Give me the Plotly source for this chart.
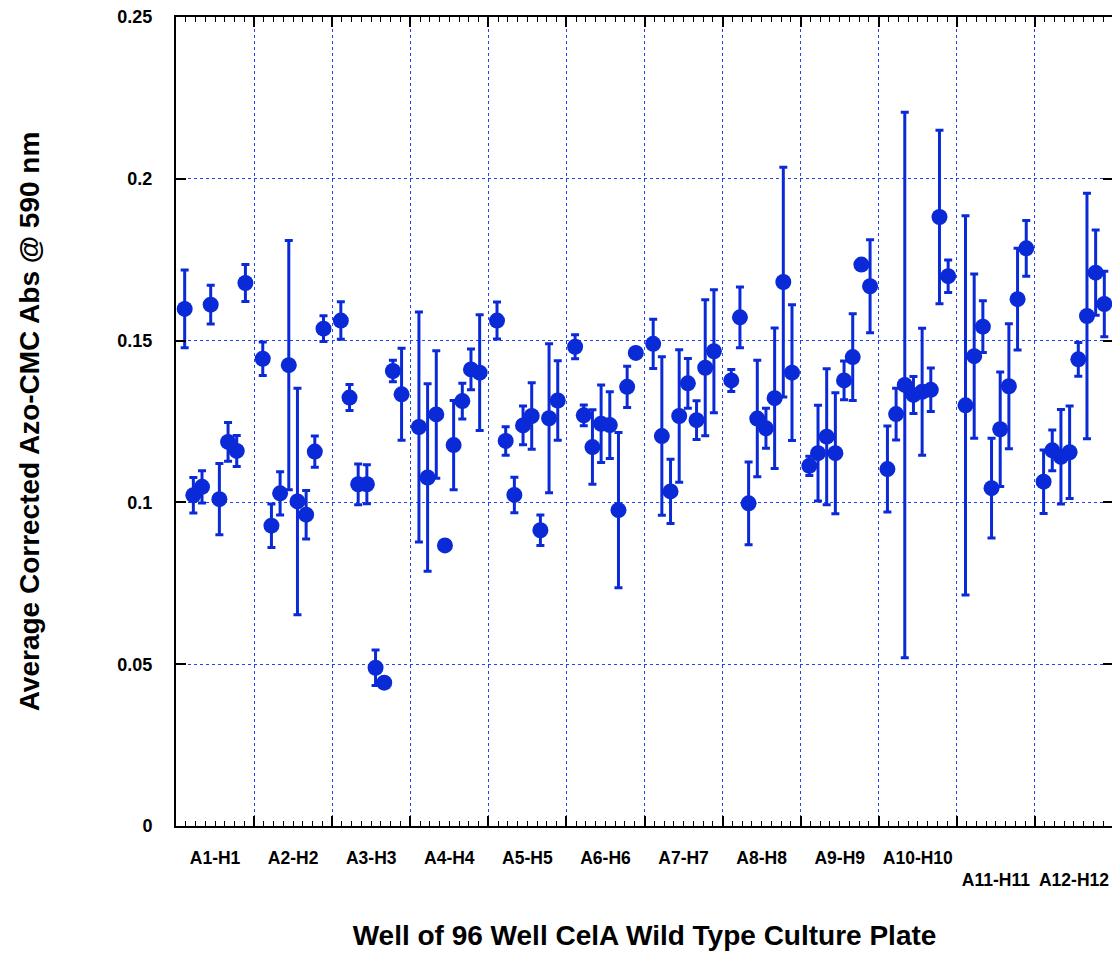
import plotly.graph_objects as go

groups = ["A1-H1", "A2-H2", "A3-H3", "A4-H4", "A5-H5", "A6-H6",
          "A7-H7", "A8-H8", "A9-H9", "A10-H10", "A11-H11", "A12-H12"]

g1 = [0.1598, 0.1022, 0.1048, 0.1611, 0.1010, 0.1187, 0.1159, 0.1678]
g2 = [0.1444, 0.0928, 0.1028, 0.1424, 0.1003, 0.0962, 0.1157, 0.1537]
g3 = [0.1562, 0.1324, 0.1056, 0.1056, 0.0489, 0.0443, 0.1406, 0.1334]
g4 = [0.1233, 0.1077, 0.1272, 0.0867, 0.1177, 0.1313, 0.1411, 0.1401]
g5 = [0.1562, 0.1190, 0.1023, 0.1238, 0.1267, 0.0914, 0.1260, 0.1315]
g6 = [0.1481, 0.1269, 0.1171, 0.1243, 0.1239, 0.0976, 0.1357, 0.1462]
g7 = [0.1490, 0.1205, 0.1034, 0.1267, 0.1368, 0.1254, 0.1416, 0.1467]
g8 = [0.1377, 0.1572, 0.0997, 0.1259, 0.1229, 0.1322, 0.1681, 0.1401]
g9 = [0.1113, 0.1152, 0.1203, 0.1152, 0.1377, 0.1449, 0.1735, 0.1668]
g10 = [0.1103, 0.1273, 0.1363, 0.1332, 0.1342, 0.1348, 0.1882, 0.1699]
g11 = [0.1300, 0.1452, 0.1543, 0.1044, 0.1226, 0.1359, 0.1628, 0.1785]
g12 = [0.1064, 0.1161, 0.1141, 0.1155, 0.1442, 0.1576, 0.1710, 0.1613]

e1 = [0.0120, 0.0055, 0.0050, 0.0060, 0.0110, 0.0060, 0.0048, 0.0057]
e2 = [0.0052, 0.0067, 0.0067, 0.0385, 0.0350, 0.0075, 0.0048, 0.0040]
e3 = [0.0058, 0.0040, 0.0063, 0.0060, 0.0055, 0.0015, 0.0033, 0.0142]
e4 = [0.0355, 0.0290, 0.0197, 0.0010, 0.0138, 0.0055, 0.0063, 0.0179]
e5 = [0.0057, 0.0044, 0.0055, 0.0060, 0.0103, 0.0047, 0.0230, 0.0123]
e6 = [0.0037, 0.0032, 0.0115, 0.0120, 0.0103, 0.0240, 0.0064, 0.0010]
e7 = [0.0076, 0.0245, 0.0099, 0.0205, 0.0077, 0.0060, 0.0210, 0.0190]
e8 = [0.0034, 0.0094, 0.0128, 0.0180, 0.0062, 0.0217, 0.0355, 0.0210]
e9 = [0.0030, 0.0148, 0.0210, 0.0187, 0.0060, 0.0134, 0.0015, 0.0144]
e10 = [0.0133, 0.0080, 0.0843, 0.0057, 0.0196, 0.0067, 0.0268, 0.0050]
e11 = [0.0586, 0.0254, 0.0080, 0.0154, 0.0177, 0.0193, 0.0157, 0.0086]
e12 = [0.0098, 0.0063, 0.0146, 0.0143, 0.0052, 0.0379, 0.0132, 0.0101]

values = [g1, g2, g3, g4, g5, g6, g7, g8, g9, g10, g11, g12]
errors = [e1, e2, e3, e4, e5, e6, e7, e8, e9, e10, e11, e12]

yticks = [0, 0.05, 0.1, 0.15, 0.2, 0.25]
ytick_text = ["0", "0.05", "0.1", "0.15", "0.2", "0.25"]

BLUE = "#0a2ad8"
GRID = "#2244ee"
FONT = "Arial, Liberation Sans, sans-serif"

xs, ys, es = [], [], []
for gi, (vals, errs) in enumerate(zip(values, errors)):
    for j, (v, e) in enumerate(zip(vals, errs)):
        xs.append(gi + (j + 1) / 9.0)
        ys.append(v)
        es.append(e)

fig = go.Figure()
fig.add_trace(go.Scatter(
    x=xs, y=ys, mode="markers",
    marker=dict(symbol="circle", size=16, color=BLUE),
    error_y=dict(type="data", array=es, visible=True, color=BLUE,
                 thickness=3, width=4),
    showlegend=False, xaxis="x", yaxis="y",
))
# invisible trace attached to the label axis
fig.add_trace(go.Scatter(x=[0, 12], y=[None, None], mode="markers",
                         showlegend=False, xaxis="x2", yaxis="y",
                         hoverinfo="skip"))

label_text = []
for i, g in enumerate(groups):
    t = "<b>%s</b>" % g
    if i >= 10:
        t = "<br>" + t
    label_text.append(t)

fig.update_layout(
    width=1112, height=969,
    margin=dict(l=168, r=7, t=9, b=151, autoexpand=False),
    paper_bgcolor="white", plot_bgcolor="white",
    font=dict(family=FONT, color="black"),
    xaxis=dict(
        range=[0, 12], tickmode="linear", tick0=0, dtick=1,
        ticks="inside", ticklen=10, tickwidth=1.5, tickcolor="black",
        showticklabels=False,
        showgrid=True, gridcolor=GRID, griddash="dot", gridwidth=1,
        zeroline=False, automargin=False,
        showline=True, linecolor="black", linewidth=2, mirror="ticks",
        minor=dict(tickmode="linear", tick0=0, dtick=0.125, ticks="inside",
                   ticklen=5, tickwidth=1, tickcolor="black", showgrid=False),
    ),
    xaxis2=dict(
        range=[0, 12], overlaying="x", side="bottom", tickmode="array",
        tickvals=[i + 0.5 for i in range(12)], ticktext=label_text,
        ticks="", showgrid=False, zeroline=False, showline=False,
        automargin=False, ticklabeloverflow="allow",
        tickfont=dict(family=FONT, size=17.5, color="black"),
        ticklabelstandoff=19,
        title=dict(text="<b>Well of 96 Well CelA Wild Type Culture Plate</b>",
                   font=dict(family=FONT, size=28, color="black"),
                   standoff=36),
    ),
    yaxis=dict(
        range=[0, 0.25], tickmode="array", tickvals=yticks,
        ticktext=["<b>%s</b>" % t for t in ytick_text],
        ticks="inside", ticklen=10, tickwidth=1.5, tickcolor="black",
        showgrid=True, gridcolor=GRID, griddash="dot", gridwidth=1,
        zeroline=False, showline=True, linecolor="black", linewidth=2,
        mirror="ticks", automargin=False, ticklabeloverflow="allow",
        tickfont=dict(family=FONT, size=18, color="black"),
        ticklabelstandoff=18,
        title=dict(text="<b>Average Corrected Azo-CMC Abs @ 590 nm</b>",
                   font=dict(family=FONT, size=28, color="black"),
                   standoff=70),
    ),
)

fig.write_html("out.html")
